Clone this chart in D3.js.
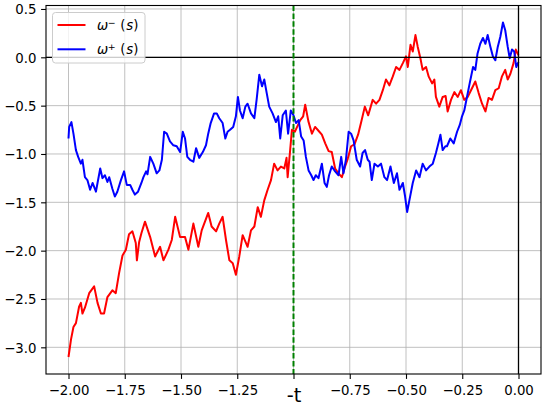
<!DOCTYPE html>
<html>
<head>
<meta charset="utf-8">
<script src="https://cdn.jsdelivr.net/npm/d3@7"></script>
<style>
  body { margin: 0; background: #fff; }
  text { font-family: "DejaVu Sans", sans-serif; }
</style>
</head>
<body>
<div id="chart"></div>
<script>
var width = 548;
var height = 405;
var plotLeft = 46, plotRight = 541, plotTop = 5.5, plotBottom = 374;

// omega minus (red)
var redS = [-2.000,-1.989,-1.978,-1.967,-1.953,-1.945,-1.938,-1.927,-1.908,-1.886,
  -1.871,-1.856,-1.842,-1.827,-1.805,-1.790,-1.775,-1.760,-1.745,-1.731,
  -1.716,-1.701,-1.696,-1.686,-1.676,-1.660,-1.637,-1.615,-1.593,-1.578,
  -1.556,-1.541,-1.526,-1.504,-1.482,-1.467,-1.445,-1.423,-1.408,-1.379,
  -1.364,-1.344,-1.330,-1.315,-1.300,-1.285,-1.270,-1.256,-1.241,-1.226,
  -1.204,-1.189,-1.174,-1.159,-1.145,-1.130,-1.115,-1.100,-1.086,-1.071,
  -1.056,-1.041,-1.031,-1.026,-1.016,-1.007,-0.994,-0.984,-0.970,-0.957,
  -0.948,-0.934,-0.918,-0.904,-0.889,-0.874,-0.859,-0.844,-0.830,-0.815,
  -0.800,-0.785,-0.771,-0.759,-0.744,-0.729,-0.713,-0.698,-0.683,-0.668,
  -0.648,-0.633,-0.618,-0.603,-0.589,-0.574,-0.559,-0.544,-0.529,-0.514,
  -0.500,-0.492,-0.480,-0.470,-0.458,-0.448,-0.436,-0.426,-0.411,-0.399,
  -0.384,-0.374,-0.367,-0.352,-0.337,-0.324,-0.315,-0.300,-0.285,-0.270,
  -0.256,-0.241,-0.226,-0.211,-0.192,-0.177,-0.162,-0.147,-0.133,-0.118,
  -0.103,-0.088,-0.074,-0.059,-0.048,-0.036,-0.022,-0.012,0.000];
var redW = [-3.10,-2.92,-2.79,-2.75,-2.58,-2.54,-2.65,-2.59,-2.44,-2.37,
  -2.54,-2.65,-2.65,-2.48,-2.41,-2.44,-2.23,-2.05,-1.99,-1.83,
  -1.80,-1.92,-2.10,-1.91,-1.82,-1.70,-1.86,-2.06,-1.96,-2.10,
  -1.99,-1.89,-1.65,-1.86,-1.86,-1.99,-1.72,-1.96,-1.79,-1.61,
  -1.75,-1.80,-1.72,-1.65,-1.89,-2.10,-2.13,-2.25,-2.06,-1.84,
  -1.96,-1.79,-1.75,-1.55,-1.65,-1.48,-1.37,-1.27,-1.10,-1.17,
  -1.13,-1.15,-1.04,-1.24,-0.99,-0.75,-0.77,-0.72,-0.65,-0.61,
  -0.49,-0.66,-0.79,-0.72,-0.76,-0.80,-0.89,-0.97,-0.98,-1.15,
  -1.20,-1.24,-1.13,-1.05,-0.92,-0.90,-0.80,-0.66,-0.51,-0.60,
  -0.44,-0.48,-0.44,-0.34,-0.23,-0.29,-0.20,-0.10,-0.13,-0.06,
  0.01,-0.10,0.13,0.06,0.23,0.11,-0.01,-0.13,-0.10,-0.20,
  -0.27,-0.23,-0.41,-0.51,-0.41,-0.40,-0.56,-0.44,-0.36,-0.41,
  -0.34,-0.44,-0.41,-0.34,-0.25,-0.37,-0.48,-0.56,-0.42,-0.44,
  -0.34,-0.32,-0.20,-0.13,-0.23,-0.17,-0.06,0.08,0.02];

// omega plus (blue)
var blueS = [-2.000,-1.997,-1.987,-1.978,-1.967,-1.957,-1.945,-1.938,-1.927,-1.916,
  -1.904,-1.893,-1.878,-1.871,-1.859,-1.849,-1.838,-1.827,-1.819,-1.805,
  -1.794,-1.783,-1.767,-1.753,-1.741,-1.726,-1.716,-1.705,-1.691,-1.676,
  -1.667,-1.655,-1.649,-1.637,-1.623,-1.608,-1.596,-1.585,-1.575,-1.563,
  -1.549,-1.534,-1.519,-1.504,-1.492,-1.482,-1.472,-1.460,-1.445,-1.433,
  -1.419,-1.403,-1.389,-1.379,-1.368,-1.353,-1.341,-1.330,-1.315,-1.303,
  -1.293,-1.282,-1.268,-1.256,-1.247,-1.238,-1.226,-1.214,-1.204,-1.189,
  -1.174,-1.164,-1.152,-1.140,-1.130,-1.119,-1.108,-1.093,-1.078,-1.068,
  -1.059,-1.048,-1.034,-1.024,-1.012,-1.000,-0.989,-0.977,-0.966,-0.955,
  -0.945,-0.933,-0.921,-0.911,-0.901,-0.889,-0.874,-0.862,-0.852,-0.842,
  -0.830,-0.815,-0.800,-0.788,-0.778,-0.767,-0.755,-0.744,-0.733,-0.719,
  -0.704,-0.693,-0.682,-0.670,-0.662,-0.652,-0.640,-0.625,-0.611,-0.596,
  -0.584,-0.569,-0.554,-0.540,-0.529,-0.514,-0.504,-0.495,-0.485,-0.470,
  -0.455,-0.440,-0.426,-0.411,-0.396,-0.381,-0.367,-0.356,-0.347,-0.337,
  -0.325,-0.318,-0.303,-0.288,-0.273,-0.261,-0.251,-0.241,-0.229,-0.217,
  -0.202,-0.192,-0.182,-0.170,-0.158,-0.147,-0.137,-0.125,-0.114,-0.103,
  -0.092,-0.081,-0.069,-0.059,-0.048,-0.039,-0.029,-0.019,-0.010,0.000];
var blueW = [-0.84,-0.72,-0.67,-0.79,-0.96,-1.03,-1.10,-1.06,-1.24,-1.27,
  -1.37,-1.30,-1.39,-1.30,-1.15,-1.25,-1.22,-1.29,-1.24,-1.36,
  -1.44,-1.39,-1.27,-1.18,-1.32,-1.32,-1.37,-1.42,-1.39,-1.30,
  -1.24,-1.18,-1.21,-1.03,-1.10,-1.20,-1.17,-1.06,-0.77,-0.79,
  -0.87,-0.91,-0.92,-0.98,-0.77,-0.84,-1.03,-1.06,-1.08,-0.94,
  -1.04,-0.98,-0.91,-0.79,-0.68,-0.58,-0.58,-0.63,-0.68,-0.84,
  -0.77,-0.75,-0.72,-0.61,-0.41,-0.55,-0.63,-0.51,-0.48,-0.58,
  -0.63,-0.44,-0.18,-0.30,-0.23,-0.37,-0.51,-0.58,-0.67,-0.61,
  -0.84,-0.60,-0.55,-0.79,-0.55,-0.60,-0.68,-0.65,-0.82,-0.86,
  -1.03,-1.17,-1.22,-1.27,-1.22,-1.25,-1.10,-1.30,-1.34,-1.22,
  -1.13,-1.18,-1.22,-1.03,-1.20,-1.06,-0.77,-0.79,-0.86,-1.06,
  -1.13,-0.99,-0.96,-1.06,-1.08,-1.27,-1.10,-1.13,-1.10,-1.24,
  -1.27,-1.13,-1.30,-1.20,-1.37,-1.30,-1.44,-1.60,-1.48,-1.30,
  -1.17,-1.24,-1.10,-1.17,-1.13,-1.10,-0.99,-0.89,-0.80,-0.96,
  -0.92,-0.92,-0.84,-0.89,-0.77,-0.70,-0.61,-0.55,-0.41,-0.27,
  -0.10,-0.13,0.04,0.14,0.20,0.14,0.23,0.11,0.01,-0.03,
  0.11,0.21,0.36,0.28,0.11,-0.01,0.08,0.06,-0.10,-0.05];

var xTicks = [-2, -1.75, -1.5, -1.25, -1, -0.75, -0.5, -0.25, 0];
var xTickLabels = ['\u22122.00', '\u22121.75', '\u22121.50', '\u22121.25', '-t', '\u22120.75', '\u22120.50', '\u22120.25', '0.00'];
var yTicks = [0.5, 0, -0.5, -1, -1.5, -2, -2.5, -3];
var yTickLabels = ['0.5', '0.0', '\u22120.5', '\u22121.0', '\u22121.5', '\u22122.0', '\u22122.5', '\u22123.0'];
var tMark = -1;

var x = d3.scaleLinear().domain([-2.1, 0.1]).range([plotLeft, plotRight]);
var y = d3.scaleLinear().domain([-3.276, 0.536]).range([plotBottom, plotTop]);

var svg = d3.select('#chart')
  .append('svg')
  .attr('width', width)
  .attr('height', height);

// grid
svg.append('g').selectAll('line')
  .data(xTicks)
  .enter().append('line')
  .attr('x1', function(d) { return x(d); })
  .attr('x2', function(d) { return x(d); })
  .attr('y1', plotTop).attr('y2', plotBottom)
  .attr('stroke', '#b0b0b0').attr('stroke-width', 0.8);

svg.append('g').selectAll('line')
  .data(yTicks)
  .enter().append('line')
  .attr('y1', function(d) { return y(d); })
  .attr('y2', function(d) { return y(d); })
  .attr('x1', plotLeft).attr('x2', plotRight)
  .attr('stroke', '#b0b0b0').attr('stroke-width', 0.8);

function series(s, w) {
  return s.map(function(v, i) { return [v, w[i]]; });
}

var line = d3.line()
  .x(function(d) { return x(d[0]); })
  .y(function(d) { return y(d[1]); });

svg.append('path')
  .datum(series(redS, redW))
  .attr('d', line)
  .attr('fill', 'none')
  .attr('stroke', '#ff0000')
  .attr('stroke-width', 2)
  .attr('stroke-linejoin', 'round');

svg.append('path')
  .datum(series(blueS, blueW))
  .attr('d', line)
  .attr('fill', 'none')
  .attr('stroke', '#0000ff')
  .attr('stroke-width', 2)
  .attr('stroke-linejoin', 'round');

// zero lines
svg.append('line')
  .attr('x1', plotLeft).attr('x2', plotRight)
  .attr('y1', y(0)).attr('y2', y(0))
  .attr('stroke', '#000').attr('stroke-width', 1.3);
svg.append('line')
  .attr('x1', x(0)).attr('x2', x(0))
  .attr('y1', plotTop).attr('y2', plotBottom)
  .attr('stroke', '#000').attr('stroke-width', 1.3);

// -t marker
svg.append('line')
  .attr('x1', x(tMark)).attr('x2', x(tMark))
  .attr('y1', plotTop).attr('y2', plotBottom)
  .attr('stroke', '#008000').attr('stroke-width', 2)
  .attr('stroke-dasharray', '5.5,2.4');

// frame
svg.append('rect')
  .attr('x', plotLeft).attr('y', plotTop)
  .attr('width', plotRight - plotLeft).attr('height', plotBottom - plotTop)
  .attr('fill', 'none')
  .attr('stroke', '#000').attr('stroke-width', 1.1);

// axes
var xAxis = svg.append('g')
  .attr('transform', 'translate(0,' + plotBottom + ')')
  .call(d3.axisBottom(x)
    .tickValues(xTicks)
    .tickFormat(function(d, i) { return xTickLabels[i]; })
    .tickSize(4.9)
    .tickSizeOuter(0));
xAxis.select('.domain').remove();
xAxis.selectAll('.tick line').attr('stroke', '#000').attr('stroke-width', 1.1);
xAxis.selectAll('.tick text')
  .attr('fill', '#000')
  .attr('font-family', '"DejaVu Sans", sans-serif')
  .attr('font-size', '13.3px')
  .attr('dy', 0)
  .attr('y', 21)
  .filter(function(d) { return d === tMark; })
  .attr('font-size', '19.4px')
  .attr('y', 28);

var yAxis = svg.append('g')
  .attr('transform', 'translate(' + plotLeft + ',0)')
  .call(d3.axisLeft(y)
    .tickValues(yTicks)
    .tickFormat(function(d, i) { return yTickLabels[i]; })
    .tickSize(4.9)
    .tickSizeOuter(0));
yAxis.select('.domain').remove();
yAxis.selectAll('.tick line').attr('stroke', '#000').attr('stroke-width', 1.1);
yAxis.selectAll('.tick text')
  .attr('fill', '#000')
  .attr('font-family', '"DejaVu Sans", sans-serif')
  .attr('font-size', '13.3px')
  .attr('x', -9.5)
  .attr('dy', '0.36em');

// legend
var legend = svg.append('g');
legend.append('rect')
  .attr('x', 52.5).attr('y', 12.5)
  .attr('width', 92.5).attr('height', 50.5)
  .attr('rx', 3).attr('ry', 3)
  .attr('fill', '#fff').attr('fill-opacity', 0.8)
  .attr('stroke', '#cccccc').attr('stroke-width', 1);

var legendItems = [
  { color: '#ff0000', sup: '\u2212', y: 25 },
  { color: '#0000ff', sup: '+', y: 49.3 }
];

legendItems.forEach(function(item) {
  legend.append('line')
    .attr('x1', 57.5).attr('x2', 85.5)
    .attr('y1', item.y).attr('y2', item.y)
    .attr('stroke', item.color).attr('stroke-width', 2);

  var t = legend.append('text')
    .attr('y', item.y + 4.6)
    .attr('font-size', '13.3px')
    .attr('fill', '#000');
  t.append('tspan').attr('x', 97).attr('font-style', 'italic').text('\u03c9');
  t.append('tspan').attr('x', 107.8).attr('dy', -4).attr('font-size', '9.4px').text(item.sup);
  t.append('tspan').attr('x', 120.3).attr('dy', 4).text('(');
  t.append('tspan').attr('x', 126.3).attr('font-style', 'italic').text('s');
  t.append('tspan').attr('x', 133.3).text(')');
});
</script>
</body>
</html>
